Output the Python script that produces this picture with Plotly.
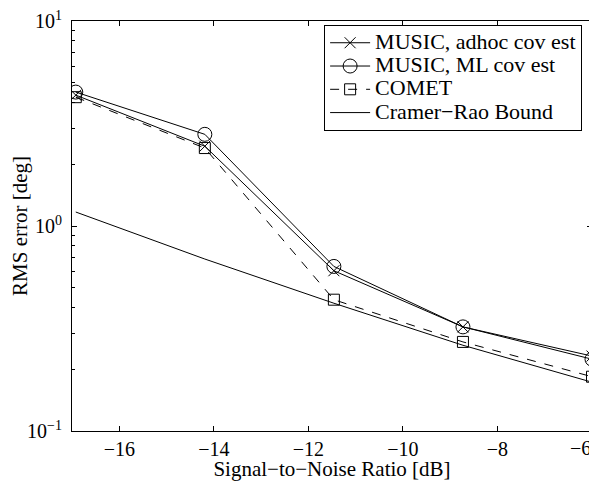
import plotly.graph_objects as go

snr = [-16.92, -14.19, -11.46, -8.73, -6.0]
music_adhoc = [4.35, 2.45, 0.605, 0.322, 0.232]
music_ml = [4.5, 2.8, 0.635, 0.322, 0.224]
comet = [4.25, 2.4, 0.437, 0.272, 0.184]
crb = [1.17, 0.69, 0.42, 0.262, 0.173]

names = ["MUSIC, adhoc cov est", "MUSIC, ML cov est", "COMET", "Cramer\u2212Rao Bound"]
x_ticks = [-16, -14, -12, -10, -8, -6]
x_ticktext = ["\u221216", "\u221214", "\u221212", "\u221210", "\u22128", ""]
last_tick_label = "\u22126"
y_ticks = [0.1, 1, 10]
y_ticktext = ["10<sup>\u22121</sup>", "10<sup>0</sup>", "10<sup>1</sup>"]

font = "Liberation Serif"


def leg(t):
    return '<span style="font-size:22px">' + t + '</span>'


fig = go.Figure()
fig.add_trace(go.Scatter(x=snr, y=music_adhoc, name=leg(names[0]), mode="lines+markers",
                         line=dict(color="black", width=1),
                         marker=dict(symbol="x-thin-open", size=11, color="black",
                                     line=dict(width=1, color="black"))))
fig.add_trace(go.Scatter(x=snr, y=music_ml, name=leg(names[1]), mode="lines+markers",
                         line=dict(color="black", width=1),
                         marker=dict(symbol="circle-open", size=14, color="black",
                                     line=dict(width=1, color="black"))))
fig.add_trace(go.Scatter(x=snr, y=comet, name=leg(names[2]), mode="lines+markers",
                         line=dict(color="black", width=1, dash="dash"),
                         marker=dict(symbol="square-open", size=11, color="black",
                                     line=dict(width=1, color="black"))))
fig.add_trace(go.Scatter(x=snr, y=crb, name=leg(names[3]), mode="lines",
                         line=dict(color="black", width=1)))

fig.add_annotation(x=x_ticks[-1], y=0, xref="x", yref="paper", text=last_tick_label,
                   showarrow=False, xanchor="right", yanchor="top", xshift=1, yshift=-4,
                   font=dict(size=20, family=font, color="black"))

fig.update_layout(
    width=589, height=473,
    margin=dict(l=64, r=5, t=13, b=50, autoexpand=False),
    paper_bgcolor="white", plot_bgcolor="white",
    font=dict(family=font, size=20, color="black"),
    showlegend=True,
    legend=dict(x=0.981, y=0.99, xanchor="right", yanchor="top",
                bordercolor="black", borderwidth=1, bgcolor="white",
                itemwidth=40,
                font=dict(size=15.6, family=font), tracegroupgap=0),
    xaxis=dict(range=[-17, -6], tickvals=x_ticks, ticktext=x_ticktext,
               ticks="inside", ticklen=5, tickcolor="black", automargin=False,
               showline=True, linecolor="black", linewidth=1, mirror="allticks",
               showgrid=False, zeroline=False,
               title=dict(text="Signal\u2212to\u2212Noise Ratio [dB]", standoff=3,
                          font=dict(size=21))),
    yaxis=dict(type="log", range=[-1, 1], tickvals=y_ticks, ticktext=y_ticktext,
               ticks="inside", ticklen=5, tickcolor="black", automargin=False,
               ticklabelstandoff=5, ticklabeloverflow="allow",
               minor=dict(ticks="inside", ticklen=3, dtick="D1", tickcolor="black", showgrid=False),
               showline=True, linecolor="black", linewidth=1, mirror="allticks",
               showgrid=False, zeroline=False,
               title=dict(text="RMS error [deg]", standoff=4, font=dict(size=21))),
)
fig.write_html("out.html")
